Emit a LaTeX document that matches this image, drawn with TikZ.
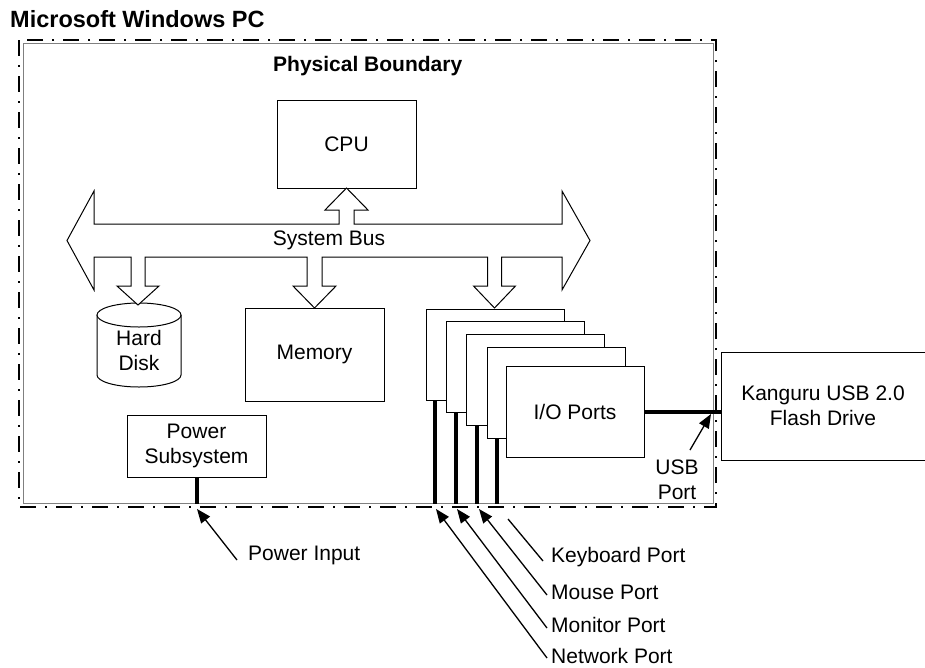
\documentclass[tikz,border=0pt]{standalone}
\usepackage{fontspec}
\setmainfont{Liberation Sans}
\usetikzlibrary{arrows.meta}
\tikzset{
  box/.style={draw, line width=1pt, fill=white, inner sep=0pt, align=center},
  lbl/.style={inner sep=0pt, align=center},
  boldlbl/.style={inner sep=0pt, font=\bfseries\fontsize{21}{25}\selectfont},
  titlelbl/.style={inner sep=0pt, font=\bfseries\fontsize{23.5}{27}\selectfont},
  portline/.style={line width=4pt},
  ptr/.style={line width=1.3pt, -{Triangle[length=14pt,width=11pt]}},
  plainptr/.style={line width=1.3pt},
  busshape/.style={draw, line width=1pt, fill=white},
  dashdot/.style={line width=1.6pt, dash pattern=on 16pt off 9pt on 2pt off 9pt},
}
\begin{document}
\begin{tikzpicture}[x=1pt,y=-1pt,font=\fontsize{21}{25.5}\selectfont]
\useasboundingbox (0,0) rectangle (925,667);
\fill[white] (0,0) rectangle (925,667);

% title
\node[titlelbl, anchor=west] (title) at (10,19.5) {Microsoft Windows PC};

% physical boundary
\node[draw=gray, line width=1pt, minimum width=690, minimum height=460, inner sep=0pt] (phys) at (368,273) {};
\draw[dashdot] (19,40) rectangle (716,507);
\node[boldlbl, anchor=west] (physlbl) at (273,66) {Physical Boundary};

% CPU and memory
\node[box, minimum width=139, minimum height=88] (cpu) at (346.5,144) {CPU};
\node[box, minimum width=139, minimum height=93] (mem) at (314.5,354.5) {Memory};

% hard disk
\draw[line width=1pt, fill=white] (97,315) -- (97,375) arc[start angle=180, end angle=0, x radius=42, y radius=12] -- (181,315);
\draw[line width=1pt, fill=white] (139,315) ellipse[x radius=42, y radius=12];
\node[lbl] (hd) at (139,350.5) {Hard\\Disk};

% power subsystem
\node[box, minimum width=139, minimum height=62] (pwr) at (196.5,446) {Power\\Subsystem};

% I/O port cards
\node[box, minimum width=138, minimum height=91] (io1) at (495,354.5) {};
\node[box, minimum width=138, minimum height=91] (io2) at (515,366.5) {};
\node[box, minimum width=138, minimum height=91] (io3) at (535,379.5) {};
\node[box, minimum width=138, minimum height=91] (io4) at (556,392.5) {};
\node[box, minimum width=138, minimum height=91] (io5) at (575,411.5) {I/O Ports};

% flash drive (box runs off the right edge)
\draw[line width=1pt] (925,352) -- (721,352) -- (721,460) -- (925,460);
\node[lbl, minimum width=204, minimum height=108] (flash) at (823,406) {Kanguru USB 2.0\\Flash Drive};

% system bus
\draw[busshape] (67,240.5) -- (94,191) -- (94,224) -- (339,224) -- (339,210) -- (325,210)
  -- (346.5,188) -- (368,210) -- (354,210) -- (354,224) -- (562,224) -- (562,191)
  -- (590,240.5) -- (562,290) -- (562,257) -- (501.5,257) -- (501.5,286) -- (515.5,286)
  -- (494.5,308) -- (473.5,286) -- (487.5,286) -- (487.5,257) -- (322,257) -- (322,286)
  -- (336,286) -- (314.5,308) -- (293,286) -- (307,286) -- (307,257) -- (145,257)
  -- (145,286) -- (159,286) -- (138,305) -- (117,286) -- (131,286) -- (131,257)
  -- (94,257) -- (94,290) -- cycle;
\node[lbl] (buslbl) at (329,240) {System Bus};

% thick port connections
\draw[portline] ([xshift=9pt]io1.south west) -- ([xshift=9pt]io1.south west |- phys.south);
\draw[portline] ([xshift=10pt]io2.south west) -- ([xshift=10pt]io2.south west |- phys.south);
\draw[portline] ([xshift=11pt]io3.south west) -- ([xshift=11pt]io3.south west |- phys.south);
\draw[portline] ([xshift=10pt]io4.south west) -- ([xshift=10pt]io4.south west |- phys.south);
\draw[portline] (pwr.south) -- (pwr.south |- phys.south);
\draw[portline] (io5.east) -- (io5.east -| flash.west);

% labels with pointers
\node[lbl] (usb) at (677,480) {USB\\Port};
\coordinate (usbTail) at (690,450);
\coordinate (usbTip) at (711,414);
\draw[ptr] (usbTail) -- (usbTip);

\node[lbl, anchor=west] (pin) at (248,555) {Power Input};
\coordinate (pinTail) at (237,560);
\coordinate (pinTip) at (197,509);
\draw[ptr] (pinTail) -- (pinTip);

\node[lbl, anchor=west] (kbd) at (551,557) {Keyboard Port};
\node[lbl, anchor=west] (mouse) at (551,592) {Mouse Port};
\node[lbl, anchor=west] (mon) at (551,625) {Monitor Port};
\node[lbl, anchor=west] (net) at (551,656) {Network Port};

\coordinate (kbdTail) at (543,561);
\coordinate (kbdEnd) at (508,519);
\coordinate (mouseTail) at (547,595);
\coordinate (mouseTip) at (479,509);
\coordinate (monTail) at (547,628);
\coordinate (monTip) at (457,509);
\coordinate (netTail) at (547,658);
\coordinate (netTip) at (436,509);
\draw[plainptr] (kbdTail) -- (kbdEnd);
\draw[ptr] (mouseTail) -- (mouseTip);
\draw[ptr] (monTail) -- (monTip);
\draw[ptr] (netTail) -- (netTip);
\end{tikzpicture}
\end{document}
